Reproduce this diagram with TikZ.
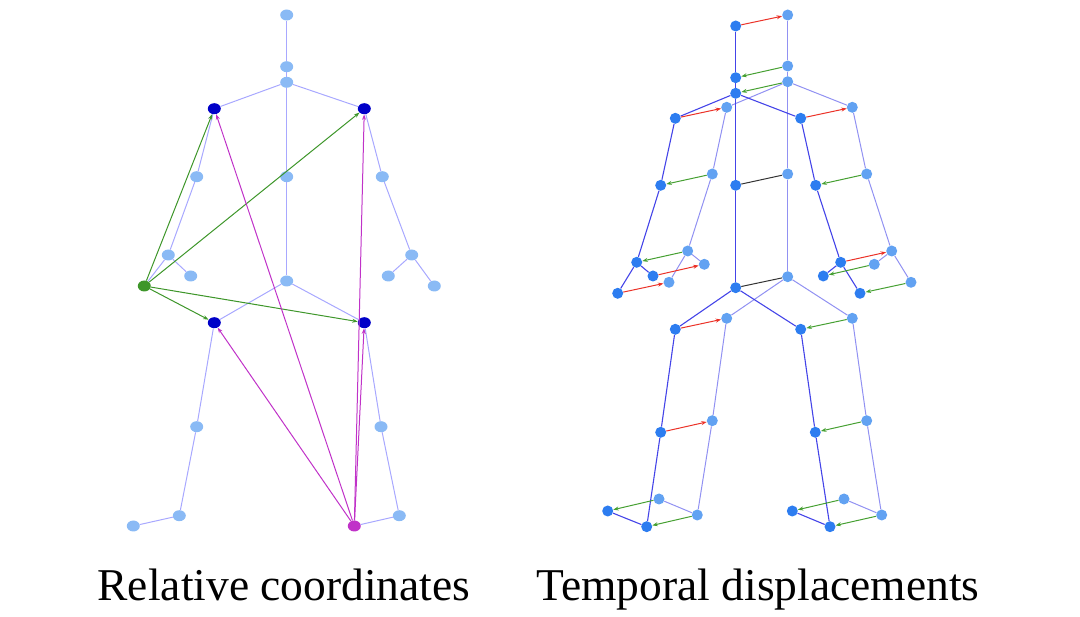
\documentclass[tikz,border=0pt]{standalone}
\usepackage{fontspec}
\setmainfont{Liberation Serif}
\usetikzlibrary{arrows.meta, shapes.geometric}
\definecolor{jointlight}{RGB}{138,186,245}
\definecolor{jointdark}{RGB}{0,0,200}
\definecolor{jointgreen}{RGB}{62,150,42}
\definecolor{jointmagenta}{RGB}{192,50,200}
\definecolor{bonelight}{RGB}{168,168,255}
\definecolor{curjoint}{RGB}{45,125,240}
\definecolor{prevjoint}{RGB}{98,162,242}
\definecolor{curbone}{RGB}{68,68,232}
\definecolor{prevbone}{RGB}{145,145,242}
\definecolor{dispred}{RGB}{235,50,40}
\definecolor{dispgreen}{RGB}{70,160,50}

\begin{document}
\begin{tikzpicture}[x=1pt, y=-1pt, >={Stealth[length=5.5pt,width=4pt]},
	joint/.style={ellipse, inner sep=0pt, minimum width=13pt, minimum height=11pt, fill=jointlight},
	jointref/.style={joint, fill=jointdark},
	bone/.style={bonelight, line width=1pt},
	relvec/.style={->, line width=1pt},
	cjoint/.style={circle, inner sep=0pt, minimum size=11pt, fill=curjoint},
	pjoint/.style={circle, inner sep=0pt, minimum size=11pt, fill=prevjoint},
	cbone/.style={curbone, line width=1.1pt},
	pbone/.style={prevbone, line width=1pt},
	disp/.style={->, line width=1pt},
	caption/.style={anchor=base, font=\fontsize{45.5}{50}\selectfont}]
	\useasboundingbox (0,0) rectangle (1080,617);
	%		\draw [thin, help lines] (0,0) grid[step=50] (1080,617);
	%%% Scheletro sinistro
	\node[joint] (a-head) at (286.7,15) {};
	\node[joint] (a-neck) at (286.7,66.7) {};
	\node[joint] (a-ss) at (286.7,82.3) {};
	\node[jointref] (a-ls) at (214.3,108.7) {};
	\node[jointref] (a-rs) at (364.3,108.7) {};
	\node[joint] (a-sm) at (286.7,176.7) {};
	\node[joint] (a-le) at (196.7,176.7) {};
	\node[joint] (a-re) at (382.3,176.7) {};
	\node[joint] (a-lw) at (168.3,255) {};
	\node[joint] (a-lh) at (190.7,276) {};
	\node[joint, fill=jointgreen] (a-lt) at (144.3,286) {};
	\node[joint] (a-rw) at (411.7,255) {};
	\node[joint] (a-rh) at (388.3,276) {};
	\node[joint] (a-rt) at (434.3,286) {};
	\node[joint] (a-sb) at (286.7,281) {};
	\node[jointref] (a-lhp) at (214.3,322.7) {};
	\node[jointref] (a-rhp) at (364.3,322.7) {};
	\node[joint] (a-lk) at (196.7,426.7) {};
	\node[joint] (a-rk) at (381,426.7) {};
	\node[joint] (a-la) at (179.3,515.7) {};
	\node[joint] (a-lf) at (133.3,526) {};
	\node[joint] (a-ra) at (399.3,515.7) {};
	\node[joint, fill=jointmagenta] (a-rf) at (354.3,526) {};
	%%% Ossa
	\draw[bone] (a-head) -- (a-neck) -- (a-ss) -- (a-sm) -- (a-sb);
	\draw[bone] (a-lt) -- (a-lw) -- (a-le) -- (a-ls) -- (a-ss) -- (a-rs) -- (a-re) -- (a-rw) -- (a-rt);
	\draw[bone] (a-lw) -- (a-lh);
	\draw[bone] (a-rw) -- (a-rh);
	\draw[bone] (a-lf) -- (a-la) -- (a-lk) -- (a-lhp) -- (a-sb) -- (a-rhp) -- (a-rk) -- (a-ra) -- (a-rf);
	%%% Vettori verdi
	\draw[relvec, jointgreen] (a-lt) -- (a-ls);
	\draw[relvec, jointgreen] (a-lt) -- (a-rs);
	\draw[relvec, jointgreen] (a-lt) -- (a-lhp);
	\draw[relvec, jointgreen] (a-lt) -- (a-rhp);
	%%% Vettori magenta
	\draw[relvec, jointmagenta] (a-rf) -- (a-ls);
	\draw[relvec, jointmagenta] (a-rf) -- (a-rs);
	\draw[relvec, jointmagenta] (a-rf) -- (a-lhp);
	\draw[relvec, jointmagenta] (a-rf) -- (a-rhp);

	%%% Scheletro destro, frame precedente
	\node[pjoint] (p-head) at (787.7,15) {};
	\node[pjoint] (p-neck) at (787.7,66) {};
	\node[pjoint] (p-ss) at (787.7,81.7) {};
	\node[pjoint] (p-ls) at (726.7,107.3) {};
	\node[pjoint] (p-rs) at (852.3,107.3) {};
	\node[pjoint] (p-sm) at (787.7,174) {};
	\node[pjoint] (p-le) at (712.3,174) {};
	\node[pjoint] (p-re) at (866.7,174) {};
	\node[pjoint] (p-lw) at (687.7,251) {};
	\node[pjoint] (p-lh) at (704.3,264.3) {};
	\node[pjoint] (p-lt) at (669,282.3) {};
	\node[pjoint] (p-rw) at (891.7,251) {};
	\node[pjoint] (p-rh) at (874.3,264.3) {};
	\node[pjoint] (p-rt) at (911,282.3) {};
	\node[pjoint] (p-sb) at (787.7,276.7) {};
	\node[pjoint] (p-lhp) at (726.7,318.3) {};
	\node[pjoint] (p-rhp) at (852.3,318.3) {};
	\node[pjoint] (p-lk) at (712.3,420.7) {};
	\node[pjoint] (p-rk) at (866.7,420.7) {};
	\node[pjoint] (p-la) at (697.3,515) {};
	\node[pjoint] (p-lf) at (659,499) {};
	\node[pjoint] (p-ra) at (881.7,515) {};
	\node[pjoint] (p-rf) at (844,499) {};
	\draw[pbone] (p-head) -- (p-neck) -- (p-ss) -- (p-sm) -- (p-sb);
	\draw[pbone] (p-lt) -- (p-lw) -- (p-le) -- (p-ls) -- (p-ss) -- (p-rs) -- (p-re) -- (p-rw) -- (p-rt);
	\draw[pbone] (p-lw) -- (p-lh);
	\draw[pbone] (p-rw) -- (p-rh);
	\draw[pbone] (p-lf) -- (p-la) -- (p-lk) -- (p-lhp) -- (p-sb) -- (p-rhp) -- (p-rk) -- (p-ra) -- (p-rf);

	%%% Scheletro destro, frame corrente
	\node[cjoint] (c-head) at (735.7,26) {};
	\node[cjoint] (c-neck) at (735.7,77.7) {};
	\node[cjoint] (c-ss) at (735.7,93.3) {};
	\node[cjoint] (c-ls) at (675.3,118.3) {};
	\node[cjoint] (c-rs) at (800.7,118.3) {};
	\node[cjoint] (c-sm) at (735.7,185.3) {};
	\node[cjoint] (c-le) at (660.7,185.3) {};
	\node[cjoint] (c-re) at (815.7,185.3) {};
	\node[cjoint] (c-lw) at (636.7,262.3) {};
	\node[cjoint] (c-lh) at (653,276) {};
	\node[cjoint] (c-lt) at (617.7,293.3) {};
	\node[cjoint] (c-rw) at (840.7,262.3) {};
	\node[cjoint] (c-rh) at (823.3,276) {};
	\node[cjoint] (c-rt) at (860,293.3) {};
	\node[cjoint] (c-sb) at (735.7,287.7) {};
	\node[cjoint] (c-lhp) at (675.3,329.3) {};
	\node[cjoint] (c-rhp) at (800.7,329.3) {};
	\node[cjoint] (c-lk) at (660.7,432.3) {};
	\node[cjoint] (c-rk) at (815.3,432.3) {};
	\node[cjoint] (c-la) at (646.7,526.7) {};
	\node[cjoint] (c-lf) at (607.7,511) {};
	\node[cjoint] (c-ra) at (830,526.7) {};
	\node[cjoint] (c-rf) at (792.3,511) {};
	\draw[cbone] (c-head) -- (c-neck) -- (c-ss) -- (c-sm) -- (c-sb);
	\draw[cbone] (c-lt) -- (c-lw) -- (c-le) -- (c-ls) -- (c-ss) -- (c-rs) -- (c-re) -- (c-rw) -- (c-rt);
	\draw[cbone] (c-lw) -- (c-lh);
	\draw[cbone] (c-rw) -- (c-rh);
	\draw[cbone] (c-lf) -- (c-la) -- (c-lk) -- (c-lhp) -- (c-sb) -- (c-rhp) -- (c-rk) -- (c-ra) -- (c-rf);

	%%% Spostamenti rossi
	\draw[disp, dispred] (c-head) -- (p-head);
	\draw[disp, dispred] (c-ls) -- (p-ls);
	\draw[disp, dispred] (c-rs) -- (p-rs);
	\draw[disp, dispred] (c-lh) -- (p-lh);
	\draw[disp, dispred] (c-lt) -- (p-lt);
	\draw[disp, dispred] (c-rw) -- (p-rw);
	\draw[disp, dispred] (c-lhp) -- (p-lhp);
	\draw[disp, dispred] (c-lk) -- (p-lk);
	%%% Spostamenti verdi
	\draw[disp, dispgreen] (p-neck) -- (c-neck);
	\draw[disp, dispgreen] (p-ss) -- (c-ss);
	\draw[disp, dispgreen] (p-le) -- (c-le);
	\draw[disp, dispgreen] (p-re) -- (c-re);
	\draw[disp, dispgreen] (p-lw) -- (c-lw);
	\draw[disp, dispgreen] (p-rh) -- (c-rh);
	\draw[disp, dispgreen] (p-rt) -- (c-rt);
	\draw[disp, dispgreen] (p-rhp) -- (c-rhp);
	\draw[disp, dispgreen] (p-rk) -- (c-rk);
	\draw[disp, dispgreen] (p-lf) -- (c-lf);
	\draw[disp, dispgreen] (p-la) -- (c-la);
	\draw[disp, dispgreen] (p-rf) -- (c-rf);
	\draw[disp, dispgreen] (p-ra) -- (c-ra);
	%%% Spostamenti nulli
	\draw[line width=1pt, black!80] (c-sm) -- (p-sm);
	\draw[line width=1pt, black!80] (c-sb) -- (p-sb);

	%%% Didascalie
	\node[caption] (cap-rel) at (284,601) {Relative coordinates};
	\node[caption] (cap-temp) at (758,601) {Temporal displacements};
\end{tikzpicture}
\end{document}
